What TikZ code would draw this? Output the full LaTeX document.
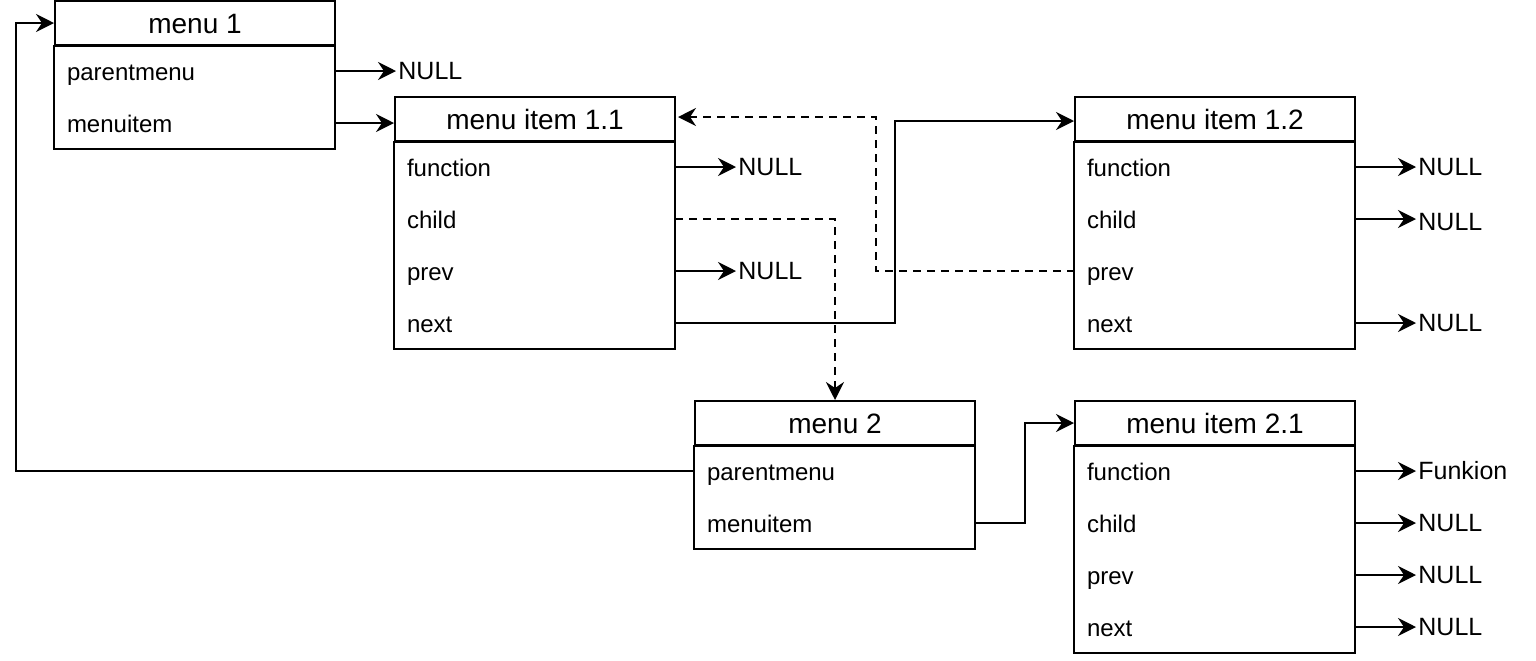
\documentclass[tikz,border=0pt]{standalone}
\usepackage{fontspec}
\setmainfont{Liberation Sans}
\usetikzlibrary{arrows.meta}
\begin{document}
\begin{tikzpicture}[x=0.5pt,y=-0.5pt,
  hdr/.style={draw,line width=1pt,minimum width=140pt,minimum height=22pt,inner sep=0pt,font=\fontsize{14pt}{16pt}\selectfont,execute at begin node=\rule[-3pt]{0pt}{16pt}},
  fld/.style={minimum width=140pt,minimum height=26pt,inner xsep=6pt,inner ysep=0pt,text width=128pt,align=left,font=\fontsize{12pt}{14pt}\selectfont,execute at begin node=\rule[-3pt]{0pt}{15pt}},
  nul/.style={anchor=west,inner sep=1pt,font=\fontsize{12.5pt}{14pt}\selectfont,execute at begin node=\rule[-1pt]{0pt}{10pt}},
  box/.style={line width=1pt},
  arr/.style={line width=1pt,-{Stealth[length=9pt,width=9pt,inset=3pt]}},
  dsh/.style={dashed,dash pattern=on 4pt off 3pt}
]
\useasboundingbox (0,0) rectangle (1536,660);

% menu 1
\node[hdr] (m1h) at (195,23) {menu 1};
\node[fld] (m1f1) at (195,71) {parentmenu};
\node[fld] (m1f2) at (195,123) {menuitem};
\draw[box] (m1h.south west) rectangle (m1f2.south east);

% menu item 1.1
\node[hdr] (m11h) at (535,119) {menu item 1.1};
\node[fld] (m11f1) at (535,167) {function};
\node[fld] (m11f2) at (535,219) {child};
\node[fld] (m11f3) at (535,271) {prev};
\node[fld] (m11f4) at (535,323) {next};
\draw[box] (m11h.south west) rectangle (m11f4.south east);

% menu item 1.2
\node[hdr] (m12h) at (1215,119) {menu item 1.2};
\node[fld] (m12f1) at (1215,167) {function};
\node[fld] (m12f2) at (1215,219) {child};
\node[fld] (m12f3) at (1215,271) {prev};
\node[fld] (m12f4) at (1215,323) {next};
\draw[box] (m12h.south west) rectangle (m12f4.south east);

% menu 2
\node[hdr] (m2h) at (835,423) {menu 2};
\node[fld] (m2f1) at (835,471) {parentmenu};
\node[fld] (m2f2) at (835,523) {menuitem};
\draw[box] (m2h.south west) rectangle (m2f2.south east);

% menu item 2.1
\node[hdr] (m21h) at (1215,423) {menu item 2.1};
\node[fld] (m21f1) at (1215,471) {function};
\node[fld] (m21f2) at (1215,523) {child};
\node[fld] (m21f3) at (1215,575) {prev};
\node[fld] (m21f4) at (1215,627) {next};
\draw[box] (m21h.south west) rectangle (m21f4.south east);

% NULL targets
\node[nul] (n1) at (396,71) {NULL};
\node[nul] (n2) at (736,167) {NULL};
\node[nul] (n3) at (736,271) {NULL};
\node[nul] (n4) at (1416,167) {NULL};
\node[nul] (n5) at (1416,222) {NULL};
\node[nul] (n6) at (1416,323) {NULL};
\node[nul] (n7) at (1416,471) {Funkion};
\node[nul] (n8) at (1416,523) {NULL};
\node[nul] (n9) at (1416,575) {NULL};
\node[nul] (n10) at (1416,627) {NULL};

\draw[arr] (m1f1.east) -- (n1.west);
\draw[arr] (m11f1.east) -- (n2.west);
\draw[arr] (m11f3.east) -- (n3.west);
\draw[arr] (m12f1.east) -- (n4.west);
\draw[arr] (m12f2.east) -- (m12f2.east -| n5.west);
\draw[arr] (m12f4.east) -- (n6.west);
\draw[arr] (m21f1.east) -- (n7.west);
\draw[arr] (m21f2.east) -- (n8.west);
\draw[arr] (m21f3.east) -- (n9.west);
\draw[arr] (m21f4.east) -- (n10.west);

% links
\draw[arr] (m1f2.east) -- (m1f2.east -| m11h.west);
\coordinate (lp) at (16,471);
\draw[arr] (m2f1.west) -- (lp) |- (m1h.west);
\draw[arr,dsh] (m11f2.east) -| (m2h.north);
\coordinate (nx) at (895,323);
\draw[arr] (m11f4.east) -- (nx) |- ([yshift=-1pt]m12h.west);
\coordinate (px) at (876,271);
\draw[arr,dsh] (m12f3.west) -- (px) |- ([yshift=1pt,xshift=1pt]m11h.east);
\coordinate (mx) at (1025,523);
\draw[arr] (m2f2.east) -- (mx) |- (m21h.west);
\end{tikzpicture}
\end{document}
